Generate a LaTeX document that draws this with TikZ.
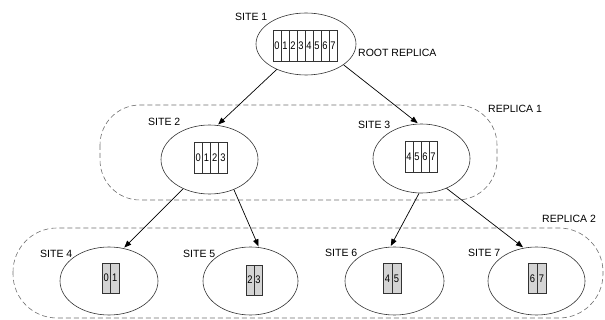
\documentclass[tikz,border=0pt]{standalone}
\usepackage{fontspec}
\setmainfont{Liberation Sans}
\usetikzlibrary{arrows.meta,shapes.geometric}
\definecolor{edge}{HTML}{333333}
\definecolor{dashgray}{HTML}{6E6E6E}
\definecolor{cellfill}{HTML}{D4D4D4}
% narrow digits inside the register cells
\newcommand\celldigit[1]{\scalebox{0.85}[1]{#1}}
\tikzset{
  site/.style={ellipse, draw=edge, line width=0.6pt, inner sep=0pt},
  cell/.style={draw=edge, line width=0.5pt, minimum width=8pt, minimum height=31pt,
               inner sep=0pt, font=\fontsize{11}{12}\selectfont},
  leafcell/.style={cell, fill=cellfill, minimum width=8.5pt, minimum height=30pt},
  lbl/.style={anchor=west, inner sep=0pt, font=\fontsize{10.5}{12}\selectfont},
  group/.style={draw=dashgray, dash pattern=on 5pt off 3pt, line width=0.6pt},
  link/.style={-{Triangle[length=7pt,width=5.5pt]}, line width=0.7pt, black, shorten >=1pt}
}
\begin{document}
\begin{tikzpicture}[x=1pt,y=-1pt]
\useasboundingbox (0,0) rectangle (605,320);

% replica groups
\draw[group, rounded corners=40pt] (100,105) rectangle (497,200);
\draw[group, rounded corners=44pt] (13,228) rectangle (603,318);

% sites
\node[site, minimum width=100pt, minimum height=62pt] (s1) at (306,44) {};
\node[site, minimum width=97pt, minimum height=69pt] (s2) at (209.5,159.5) {};
\node[site, minimum width=97pt, minimum height=69pt] (s3) at (421.5,158.5) {};
\node[site, minimum width=98pt, minimum height=68pt] (s4) at (109,281) {};
\node[site, minimum width=95pt, minimum height=68pt] (s5) at (250.5,281) {};
\node[site, minimum width=99pt, minimum height=68pt] (s6) at (394.5,281) {};
\node[site, minimum width=97pt, minimum height=68pt] (s7) at (536.5,281) {};

% register cells
\foreach \i in {0,...,7}
  \node[cell] (ra\i) at (277+8*\i,45.5) {\celldigit{\i}};
\foreach \i in {0,...,3}
  \node[cell, minimum width=8.25pt] (rb\i) at (198.1+8.25*\i,157.5) {\celldigit{\i}};
\foreach \i [count=\k from 0] in {4,...,7}
  \node[cell] (rc\i) at (409+8*\k,156.5) {\celldigit{\i}};
\foreach \i [count=\k from 0] in {0,1}
  \node[leafcell] (rd\i) at (106.25+8.5*\k,278) {\celldigit{\i}};
\foreach \i [count=\k from 0] in {2,3}
  \node[leafcell, minimum width=8pt] (re\i) at (250+8*\k,280) {\celldigit{\i}};
\foreach \i [count=\k from 0] in {4,5}
  \node[leafcell, minimum width=9pt] (rf\i) at (387.5+9*\k,278.5) {\celldigit{\i}};
\foreach \i [count=\k from 0] in {6,7}
  \node[leafcell, minimum width=9pt] (rg\i) at (532.5+9*\k,278.5) {\celldigit{\i}};

% labels
\node[lbl] (t1) at (235,16.5) {SITE 1};
\node[lbl] (troot) at (358,53) {ROOT REPLICA};
\node[lbl] (t2) at (148,122) {SITE 2};
\node[lbl] (t3) at (358,125) {SITE 3};
\node[lbl] (trep1) at (488,109) {REPLICA 1};
\node[lbl] (t4) at (40,254) {SITE 4};
\node[lbl] (t5) at (183,254) {SITE 5};
\node[lbl] (t6) at (325,252.5) {SITE 6};
\node[lbl] (t7) at (468,252.5) {SITE 7};
\node[lbl] (trep2) at (542,219) {REPLICA 2};

% replication links
\draw[link] (s1.221) -- (s2.77);
\draw[link] (s1.331) -- (s3.95);
\draw[link] (s2.228) -- (s4.66);
\draw[link] (s2.309) -- (s5.76);
\draw[link] (s3.266) -- (s6.97);
\draw[link] (s3.310) -- (s7.111);
\end{tikzpicture}
\end{document}
